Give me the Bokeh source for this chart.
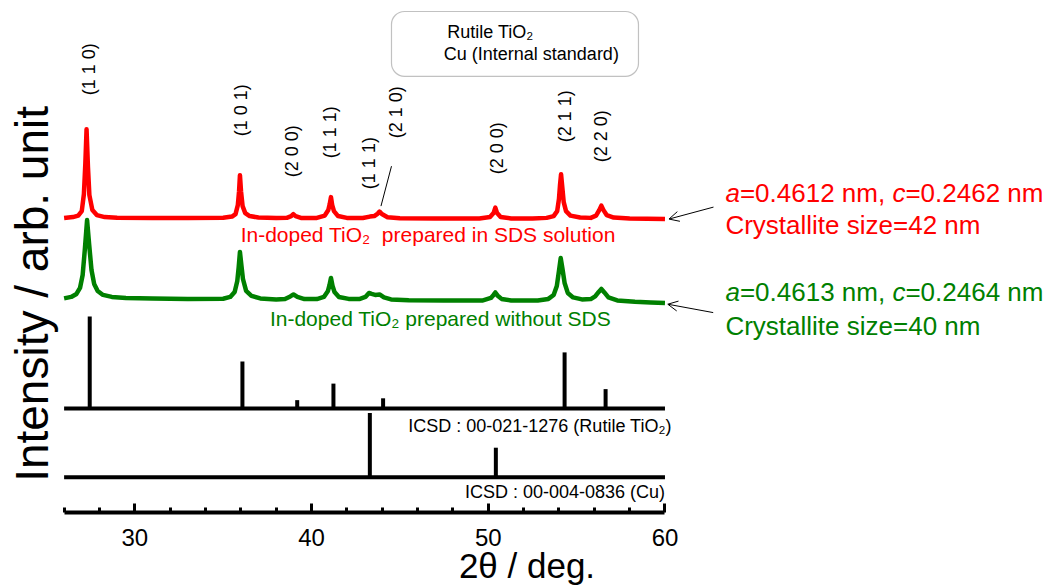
import numpy as np
from bokeh.plotting import figure
from bokeh.models import (Range1d, FixedTicker, Arrow, OpenHead,
                          BoxAnnotation, ColumnDataSource)
from bokeh.core.properties import value
from bokeh.embed import file_html
from bokeh.resources import INLINE

# ---------------- data ----------------
# In-doped TiO2 prepared in SDS solution (intensity above its baseline, arb.)
red_2theta = [26.0, 26.5, 26.8, 27.0, 27.12, 27.2, 27.27, 27.35, 27.43, 27.6, 27.85, 28.3,
              29.0, 31.0, 33.0, 35.0, 35.5, 35.7, 35.83, 35.9, 35.95, 36.01, 36.1, 36.25,
              36.5, 37.0, 38.0, 38.6, 38.85, 38.97, 39.1, 39.4, 40.3, 40.75, 40.95, 41.03,
              41.1, 41.17, 41.27, 41.5, 42.0, 42.9, 43.3, 43.55, 43.75, 43.85, 43.98, 44.3,
              45.0, 47.0, 49.5, 50.1, 50.3, 50.4, 50.5, 50.7, 51.3, 52.5, 53.3, 53.7, 53.9,
              54.0, 54.06, 54.12, 54.19, 54.27, 54.4, 54.65, 55.2, 55.8, 56.1, 56.28, 56.4,
              56.52, 56.7, 57.1, 58.0, 59.0, 60.0]
red_int = [1.0, 2.0, 3.5, 8, 25, 55, 90, 52, 24, 9, 4, 2.0,
           1.4, 1.2, 1.0, 1.3, 2.5, 5, 14, 28, 44, 28, 13, 6,
           3, 1.5, 1.0, 1.3, 3, 5, 3, 1.2, 1.2, 3.5, 9, 15,
           22, 14, 8, 3, 1.2, 1.0, 2.5, 3, 5.5, 7.5, 5, 1.8,
           0.8, 0.6, 0.6, 2, 6, 11.5, 6, 2, 0.6, 0.5, 1.2, 3, 8,
           20, 34, 45, 32, 17, 8, 3.5, 1.5, 1.2, 3.5, 9, 13.5,
           9, 4, 1.5, 0.5, 0.2, 0.0]

# In-doped TiO2 prepared without SDS
green_2theta = [26.0, 26.4, 26.7, 26.9, 27.05, 27.18, 27.3, 27.42, 27.55, 27.7, 27.9, 28.2,
                28.7, 29.5, 31.0, 33.0, 35.0, 35.4, 35.65, 35.8, 35.88, 35.95, 36.03, 36.12,
                36.3, 36.6, 37.1, 38.0, 38.5, 38.8, 38.98, 39.2, 39.6, 40.3, 40.7, 40.93,
                41.02, 41.1, 41.19, 41.3, 41.55, 42.1, 42.7, 43.05, 43.25, 43.4, 43.6, 43.85,
                44.1, 44.5, 45.5, 47.5, 49.7, 50.15, 50.3, 50.4, 50.52, 50.75, 51.3, 52.8,
                53.4, 53.7, 53.88, 54.0, 54.1, 54.2, 54.32, 54.5, 54.8, 55.3, 55.8, 56.05,
                56.25, 56.4, 56.57, 56.8, 57.3, 58.3, 59.2, 60.0]
green_int = [4.5, 6, 9, 15, 28, 55, 83, 58, 33, 19, 12, 8,
             6, 5, 4.3, 3.8, 4.2, 6, 11, 22, 36, 51, 38, 24,
             12, 7, 4.5, 3.5, 4, 6.5, 8.5, 6, 3.8, 3.8, 6, 12,
             18, 25, 17, 11, 6, 4, 3.8, 6, 10, 9, 8, 8.5,
             5.5, 3.5, 2.7, 2.3, 2.5, 5, 8, 10.5, 7.5, 4, 2.4, 2.4,
             4, 8, 17, 32, 45, 34, 20, 10, 5.5, 3.5, 3.8, 6.5,
             11, 14, 10.5, 5.5, 2.5, 1.2, 0.5, 0.0]

# Reference patterns
tio2_pos = [27.45, 36.09, 39.19, 41.24, 44.05, 54.32, 56.64]
tio2_int = [100, 51, 9, 27, 11, 61, 21]
cu_pos = [43.30, 50.43]
cu_int = [100, 46]

# Peak labels
hkl_text = ["(1 1 0)", "(1 0 1)", "(2 0 0)", "(1 1 1)", "(1 1 1)", "(2 1 0)",
            "(2 0 0)", "(2 1 1)", "(2 2 0)"]
hkl_x = [27.4, 36.0, 38.87, 41.07, 43.28, 44.76, 50.47, 54.33, 56.38]
hkl_y = [418, 377, 336, 355, 324, 375, 339, 371, 351]

x_ticks = [30, 40, 50, 60]
x_minor = [26, 28, 32, 34, 36, 38, 42, 44, 46, 48, 52, 54, 56, 58]

# ---------------- layout constants ----------------
RED = "#ff0000"
GREEN = "#008000"
FONT = "Liberation Sans"
red_off = 294
green_off = 210
tio2_base, tio2_scale = 104.3, 0.92
cu_base, cu_scale = 35.3, 0.644

p = figure(width=1053, height=587, output_backend="svg", toolbar_location=None,
           x_range=Range1d(22.401, 81.984), y_range=Range1d(0, 513),
           y_axis_location=None, min_border_left=0, min_border_right=0,
           min_border_top=0, min_border_bottom=74, outline_line_color=None,
           background_fill_color="white", border_fill_color="white")
p.xgrid.visible = False
p.ygrid.visible = False

ax = p.xaxis[0]
ax.bounds = (26, 60)
ax.ticker = FixedTicker(ticks=x_ticks, minor_ticks=x_minor)
ax.axis_line_width = 4
ax.axis_line_color = "black"
ax.major_tick_line_width = 3
ax.minor_tick_line_width = 3
ax.major_tick_line_color = "black"
ax.minor_tick_line_color = "black"
ax.major_tick_in = 9
ax.major_tick_out = 0
ax.minor_tick_in = 5
ax.minor_tick_out = 0
ax.major_label_text_font = FONT
ax.major_label_text_font_size = "24px"
ax.major_label_text_color = "black"
ax.major_label_standoff = 16
ax.axis_label = "2\u03b8 / deg."
ax.axis_label_text_font = FONT
ax.axis_label_text_font_size = "35px"
ax.axis_label_text_font_style = "normal"
ax.axis_label_text_color = "black"
ax.axis_label_standoff = -3

# curves
p.line(x=red_2theta, y=[v + red_off for v in red_int], line_color=RED, line_width=4.5,
       line_join="round")
p.line(x=green_2theta, y=[v + green_off for v in green_int], line_color=GREEN,
       line_width=4.5, line_join="round")

# reference stick patterns
p.segment(x0=[26], y0=[tio2_base], x1=[60], y1=[tio2_base], line_color="black", line_width=4)
p.segment(x0=tio2_pos, y0=[tio2_base] * len(tio2_pos), x1=tio2_pos,
          y1=[tio2_base + tio2_scale * v for v in tio2_int], line_color="black",
          line_width=4, line_cap="butt")
p.segment(x0=[26], y0=[cu_base], x1=[60], y1=[cu_base], line_color="black", line_width=4)
p.segment(x0=cu_pos, y0=[cu_base] * len(cu_pos), x1=cu_pos,
          y1=[cu_base + cu_scale * v for v in cu_int], line_color="black",
          line_width=4, line_cap="butt")

# peak labels
src = ColumnDataSource(dict(x=hkl_x, y=hkl_y, t=hkl_text))
p.text(x="x", y="y", text="t", source=src, angle=np.pi / 2, text_align="left",
       text_baseline="middle", text_font=value(FONT), text_font_size="18px",
       text_color="black")
p.line(x=[44.525, 43.93], y=[347, 307], line_color="black", line_width=1)


def txt(x, y, s, size, color="black", align="left", style="normal", font=FONT,
        angle=0.0, x_offset=0):
    p.text(x=[x], y=[y], text=[s], text_align=align, text_baseline="middle",
           text_font=value(font), text_font_size=size, text_color=color,
           text_font_style=style, angle=angle, x_offset=x_offset)


txt(46.60, 278.9, "In-doped TiO\u2082\u00a0 prepared in SDS solution", "21px", RED, "center")
txt(47.30, 193.9, "In-doped TiO\u2082 prepared without SDS", "21px", GREEN, "center")
txt(60.38, 86.8, "ICSD : 00-021-1276 (Rutile TiO\u2082)", "18px", "black", "right")
txt(60.0, 20.5, "ICSD : 00-004-0836 (Cu)", "18px", "black", "right")

# y label
txt(24.183, 219, "Intensity / arb. unit", "46px", "black", "center", angle=np.pi / 2)

# legend box
p.add_layout(BoxAnnotation(left=44.525, right=58.50, top=502, bottom=437,
                           border_radius=13, fill_color=None, fill_alpha=0,
                           line_color="#333333", line_width=1.2))
txt(47.676, 481.2, "Rutile TiO\u2082", "18px")
txt(47.484, 459.5, "Cu (Internal standard)", "18px")

# lattice / crystallite annotations
for (y1, y2, a_txt, c_txt, size_txt, col) in [
        (320.1, 288.1, "=0.4612 nm,", "=0.2462 nm", "Crystallite size=42 nm", RED),
        (220.7, 186.7, "=0.4613 nm,", "=0.2464 nm", "Crystallite size=40 nm", GREEN)]:
    txt(63.42, y1, "a", "26px", col, style="italic")
    txt(63.42, y1, a_txt, "26px", col, x_offset=14.5)
    txt(63.42, y1, "c", "26px", col, style="italic", x_offset=167)
    txt(63.42, y1, c_txt, "26px", col, x_offset=180)
    txt(63.42, y2, size_txt, "26px", col)

p.add_layout(Arrow(end=OpenHead(size=10, line_width=1, line_color="black"),
                   x_start=62.745, y_start=306, x_end=60.226, y_end=294,
                   line_width=1, line_color="black"))
p.add_layout(Arrow(end=OpenHead(size=10, line_width=1, line_color="black"),
                   x_start=62.728, y_start=200.3, x_end=60.158, y_end=208.7,
                   line_width=1, line_color="black"))

open("out.html", "w").write(file_html(p, INLINE))
